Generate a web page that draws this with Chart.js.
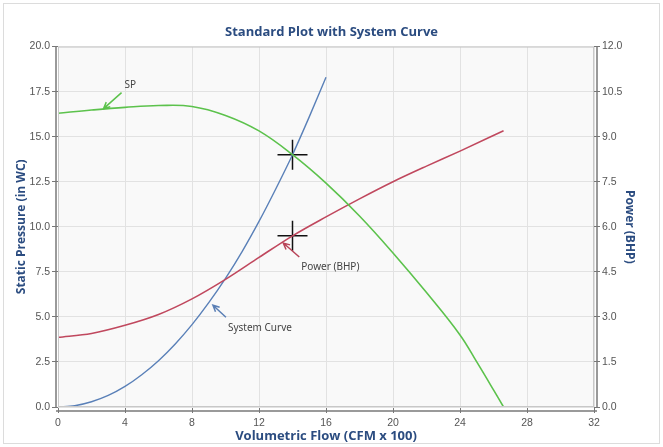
<!DOCTYPE html>
<html>
<head>
<meta charset="utf-8">
<script src="https://cdn.jsdelivr.net/npm/chart.js@4"></script>
<style>
  html, body { margin: 0; padding: 0; background: #fff; }
  #wrap { width: 663px; height: 447px; }
</style>
</head>
<body>
<div id="wrap"><canvas id="fanChart" width="663" height="447"></canvas></div>
<script>
// values
const flowSP = [0, 2, 4, 6, 8, 10, 12, 14, 16, 18, 20, 22, 24, 25, 26, 26.6];
const spValues = [16.3, 16.48, 16.63, 16.73, 16.68, 16.18, 15.32, 14.0, 12.42, 10.6, 8.55, 6.35, 4.0, 2.5, 0.95, 0];

const flowPower = [0, 2, 4, 6, 8, 10, 12, 14, 16, 18, 20, 22, 24, 26.6];
const powerValues = [2.32, 2.45, 2.72, 3.08, 3.6, 4.25, 4.98, 5.7, 6.33, 6.93, 7.5, 8.02, 8.52, 9.2];

const flowSystem = [0, 1, 2, 3, 4, 5, 6, 7, 8, 9, 10, 11, 12, 13, 14, 15, 16];
const systemValues = [0, 0.07, 0.29, 0.64, 1.14, 1.79, 2.57, 3.5, 4.57, 5.79, 7.14, 8.64, 10.3, 12.1, 14.0, 16.1, 18.3];

const opFlow = 14;
const opPressure = 14.0;
const opPower = 5.7;

const titleColor = '#2b4c80';
const tickColor = '#555';

function toPoints(xs, ys) {
  return xs.map((x, i) => ({ x: x, y: ys[i] }));
}

// background, frame and offset axis lines
const framePlugin = {
  id: 'frame',
  beforeDraw(chart) {
    const { ctx, chartArea: a, width, height } = chart;
    ctx.save();
    ctx.fillStyle = '#fff';
    ctx.fillRect(0, 0, width, height);
    ctx.strokeStyle = '#dcdcdc';
    ctx.lineWidth = 1;
    ctx.strokeRect(3.5, 3.5, width - 7, height - 7);
    ctx.fillStyle = '#f9f9f9';
    ctx.fillRect(a.left, a.top, a.right - a.left, a.bottom - a.top);
    ctx.restore();
  },
  afterDraw(chart) {
    const { ctx, chartArea: a } = chart;
    ctx.save();
    ctx.strokeStyle = '#c8c8c8';
    ctx.lineWidth = 1;
    ctx.strokeRect(a.left + 0.5, a.top + 0.5, a.right - a.left - 1, a.bottom - a.top - 1);
    ctx.strokeStyle = '#7a7a7a';
    ctx.lineWidth = 1.5;
    ctx.beginPath();
    ctx.moveTo(a.left - 2, a.top);
    ctx.lineTo(a.left - 2, a.bottom + 1);
    ctx.moveTo(a.left - 2, a.bottom + 4);
    ctx.lineTo(a.right + 3, a.bottom + 4);
    ctx.moveTo(a.right + 3, a.top);
    ctx.lineTo(a.right + 3, a.bottom + 1);
    ctx.stroke();
    ctx.restore();
  }
};

// callout labels with arrows, anchored on the curves
const calloutPlugin = {
  id: 'callouts',
  afterDatasetsDraw(chart) {
    const { ctx, scales } = chart;
    const notes = [
      { text: 'SP', fx: 2.72, fy: 16.56, axis: 'y', dx: 18, dy: -16, color: '#5cc24c', tx: 3, ty: -7 },
      { text: 'Power (BHP)', fx: 13.45, fy: 5.46, axis: 'y1', dx: 16, dy: 14, color: '#b84458', tx: 2, ty: 10 },
      { text: 'System Curve', fx: 9.25, fy: 5.65, axis: 'y', dx: 13, dy: 12, color: '#5a7fb5', tx: 2, ty: 11 }
    ];
    ctx.save();
    notes.forEach(n => {
      const x0 = scales.x.getPixelForValue(n.fx);
      const y0 = scales[n.axis].getPixelForValue(n.fy);
      const x1 = x0 + n.dx;
      const y1 = y0 + n.dy;
      const ang = Math.atan2(y0 - y1, x0 - x1);
      ctx.strokeStyle = n.color;
      ctx.lineWidth = 1.5;
      ctx.beginPath();
      ctx.moveTo(x1, y1);
      ctx.lineTo(x0, y0);
      ctx.moveTo(x0 - 7 * Math.cos(ang - 0.45), y0 - 7 * Math.sin(ang - 0.45));
      ctx.lineTo(x0, y0);
      ctx.lineTo(x0 - 7 * Math.cos(ang + 0.45), y0 - 7 * Math.sin(ang + 0.45));
      ctx.stroke();
      ctx.fillStyle = '#444';
      ctx.font = '10px "Noto Sans", sans-serif';
      ctx.textBaseline = 'middle';
      ctx.textAlign = 'left';
      ctx.fillText(n.text, x1 + n.tx, y1 + n.ty);
    });
    ctx.restore();
  }
};

const ctx = document.getElementById('fanChart').getContext('2d');
const fanChart = new Chart(ctx, {
  type: 'scatter',
  data: {
    datasets: [
      {
        label: 'SP',
        data: toPoints(flowSP, spValues),
        showLine: true,
        borderColor: '#5cc24c',
        borderWidth: 1.6,
        pointRadius: 0,
        tension: 0.4,
        yAxisID: 'y'
      },
      {
        label: 'Power (BHP)',
        data: toPoints(flowPower, powerValues),
        showLine: true,
        borderColor: '#c0485e',
        borderWidth: 1.6,
        pointRadius: 0,
        cubicInterpolationMode: 'monotone',
        yAxisID: 'y1'
      },
      {
        label: 'System Curve',
        data: toPoints(flowSystem, systemValues),
        showLine: true,
        borderColor: '#5a80b8',
        borderWidth: 1.4,
        pointRadius: 0,
        cubicInterpolationMode: 'monotone',
        yAxisID: 'y'
      },
      {
        label: 'SP point',
        data: [{ x: opFlow, y: opPressure }],
        pointStyle: 'cross',
        pointRadius: 15,
        borderColor: '#111',
        borderWidth: 1.5,
        yAxisID: 'y'
      },
      {
        label: 'Power point',
        data: [{ x: opFlow, y: opPower }],
        pointStyle: 'cross',
        pointRadius: 15,
        borderColor: '#111',
        borderWidth: 1.5,
        yAxisID: 'y1'
      }
    ]
  },
  options: {
    responsive: false,
    animation: false,
    layout: { padding: 0 },
    plugins: {
      legend: { display: false },
      tooltip: { enabled: false },
      title: {
        display: true,
        text: 'Standard Plot with System Curve',
        color: titleColor,
        font: { family: '"Open Sans", sans-serif', size: 13, weight: 'bold' },
        padding: { top: 24, bottom: 7 }
      }
    },
    scales: {
      x: {
        type: 'linear',
        min: 0,
        max: 32,
        afterFit: s => { s.height = 40; },
        ticks: { stepSize: 4, color: tickColor, padding: 4, font: { family: '"Liberation Sans", Arial', size: 10.5 } },
        grid: { color: '#e2e2e2', tickColor: '#777', tickLength: 6 },
        border: { display: false },
        title: {
          display: true,
          text: 'Volumetric Flow (CFM x 100)',
          color: titleColor,
          font: { family: '"Open Sans", sans-serif', size: 13, weight: 'bold' },
          padding: { top: 0, bottom: 3 }
        }
      },
      y: {
        position: 'left',
        min: 0,
        max: 20,
        afterFit: s => { s.width = 58; },
        ticks: { stepSize: 2.5, color: tickColor, padding: 2, callback: v => v.toFixed(1), font: { family: '"Liberation Sans", Arial', size: 10.5 } },
        grid: { color: '#e2e2e2', tickColor: '#777', tickLength: 6 },
        border: { display: false },
        title: {
          display: true,
          text: 'Static Pressure (in WC)',
          color: titleColor,
          font: { family: '"Open Sans", sans-serif', size: 12, weight: 'bold' },
          padding: { top: 14, bottom: 0 }
        }
      },
      y1: {
        position: 'right',
        min: 0,
        max: 12,
        afterFit: s => { s.width = 69; },
        ticks: { stepSize: 1.5, color: tickColor, padding: 2, callback: v => v.toFixed(1), font: { family: '"Liberation Sans", Arial', size: 10.5 } },
        grid: { drawOnChartArea: false, color: '#e2e2e2', tickColor: '#777', tickLength: 6 },
        border: { display: false },
        title: {
          display: true,
          text: 'Power (BHP)',
          color: titleColor,
          font: { family: '"Open Sans", sans-serif', size: 12, weight: 'bold' },
          padding: { top: 26, bottom: 0 }
        }
      }
    }
  },
  plugins: [framePlugin, calloutPlugin]
});
</script>
</body>
</html>
